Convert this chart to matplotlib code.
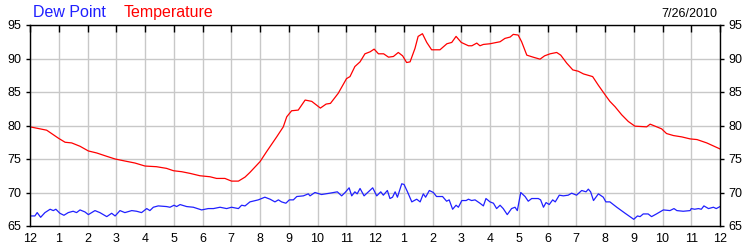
import matplotlib.pyplot as plt

plt.rcParams['font.family'] = ['Liberation Sans', 'DejaVu Sans']

# hours since midnight
temp_hours = [0, 0.58, 0.99, 1.22, 1.45, 1.74, 2.03, 2.32, 2.67, 2.96, 3.3, 3.65, 4.0, 4.4,
              4.75, 4.99, 5.28, 5.57, 5.91, 6.26, 6.49, 6.78, 7.01, 7.25, 7.48, 7.65, 8.0,
              8.23, 8.58, 8.81, 8.93, 9.1, 9.33, 9.57, 9.8, 10.1, 10.3, 10.45, 10.72, 11.01,
              11.13, 11.3, 11.48, 11.65, 11.83, 11.97, 12.12, 12.3, 12.47, 12.64, 12.81,
              12.96, 13.1, 13.22, 13.39, 13.5, 13.65, 13.8, 13.97, 14.26, 14.5, 14.67, 14.82,
              15.0, 15.25, 15.37, 15.54, 15.65, 15.77, 16.0, 16.23, 16.35, 16.52, 16.7, 16.81,
              16.98, 17.1, 17.28, 17.5, 17.74, 17.9, 18.09, 18.32, 18.46, 18.67, 18.88, 19.07,
              19.25, 19.57, 19.77, 20.0, 20.17, 20.35, 20.58, 20.81, 21.04, 21.45, 21.57,
              21.97, 22.14, 22.38, 22.67, 22.96, 23.2, 23.54, 24]
temp_vals = [79.8, 79.3, 78.1, 77.5, 77.4, 76.9, 76.2, 75.9, 75.4, 75.0, 74.7, 74.4, 73.95, 73.85,
             73.6, 73.25, 73.1, 72.85, 72.5, 72.35, 72.1, 72.1, 71.7, 71.7, 72.3, 73.0, 74.6,
             76.1, 78.3, 79.8, 81.3, 82.2, 82.3, 83.8, 83.6, 82.6, 83.2, 83.3, 84.8, 87.0,
             87.3, 88.8, 89.5, 90.7, 91.0, 91.4, 90.7, 90.7, 90.2, 90.3, 90.9,
             90.4, 89.4, 89.5, 91.5, 93.3, 93.7, 92.4, 91.3, 91.3, 92.2, 92.4, 93.3,
             92.4, 91.9, 91.9, 92.3, 91.9, 92.1, 92.2, 92.4, 92.5, 93.0, 93.2, 93.6,
             93.5, 92.5, 90.5, 90.2, 89.9, 90.4, 90.7, 90.9, 90.5, 89.3, 88.3, 88.1,
             87.7, 87.3, 86.0, 84.6, 83.6, 82.8, 81.6, 80.6, 79.9, 79.8, 80.2,
             79.5, 78.8, 78.5, 78.3, 78.0, 77.9, 77.4, 76.5]

dew_hours = [0, 0.17, 0.25, 0.37, 0.52, 0.7, 0.81, 0.9, 1.04, 1.18, 1.33, 1.5, 1.62, 1.74, 1.91,
             2.03, 2.26, 2.43, 2.67, 2.84, 2.96, 3.13, 3.3, 3.54, 3.71, 3.88, 4.06, 4.17, 4.29,
             4.46, 4.75, 4.87, 5.01, 5.1, 5.22, 5.45, 5.68, 5.97, 6.2, 6.38, 6.61, 6.84, 7.01,
             7.25, 7.36, 7.48, 7.65, 7.94, 8.17, 8.35, 8.52, 8.64, 8.75, 8.9, 9.02, 9.16, 9.28,
             9.51, 9.68, 9.74, 9.91, 10.14, 10.43, 10.69, 10.84, 10.96, 11.1, 11.19, 11.3,
             11.38, 11.48, 11.62, 11.77, 11.92, 12.06, 12.2, 12.29, 12.43, 12.52, 12.61, 12.7,
             12.78, 12.93, 13.01, 13.13, 13.28, 13.45, 13.57, 13.68, 13.76, 13.89, 14.03,
             14.14, 14.35, 14.49, 14.58, 14.7, 14.82, 14.9, 15.02, 15.17, 15.25, 15.36, 15.48,
             15.65, 15.77, 15.86, 16.0, 16.12, 16.23, 16.35, 16.46, 16.6, 16.75, 16.87, 16.95,
             17.07, 17.22, 17.33, 17.45, 17.68, 17.76, 17.86, 17.95, 18.06, 18.18, 18.27,
             18.41, 18.55, 18.72, 18.84, 19.01, 19.19, 19.34, 19.42, 19.5, 19.6, 19.77, 19.94,
             20.03, 20.17, 20.41, 20.7, 21.0, 21.13, 21.22, 21.33, 21.5, 21.62, 21.79, 22.03,
             22.26, 22.4, 22.5, 22.72, 22.96, 23.0, 23.12, 23.25, 23.35, 23.44, 23.6, 23.77,
             23.87, 24]
dew_vals = [66.5, 66.5, 67.0, 66.3, 67.0, 67.5, 67.3, 67.5, 66.9, 66.6, 67.0, 67.2, 67.0, 67.4, 67.1,
            66.7, 67.3, 67.0, 66.4, 66.9, 66.5, 67.3, 67.0, 67.3, 67.2, 67.0, 67.6, 67.3, 67.8,
            68.0, 67.9, 67.8, 68.1, 67.9, 68.2, 67.9, 67.8, 67.4, 67.6, 67.6, 67.8, 67.6, 67.8,
            67.6, 68.1, 68.0, 68.6, 68.9, 69.3, 69.0, 68.6, 68.9, 68.6, 68.4, 68.9, 68.9, 69.4,
            69.5, 69.8, 69.5, 70.0, 69.7, 69.9, 70.1, 69.5, 70.0, 70.7, 69.5, 70.1,
            69.8, 70.6, 69.5, 70.1, 70.7, 69.5, 70.1, 69.6, 70.3, 69.1, 69.3, 70.1,
            69.3, 71.3, 71.2, 70.1, 68.6, 69.0, 68.6, 69.8, 69.3, 70.3, 70.0,
            69.4, 69.4, 68.7, 68.9, 67.5, 68.1, 67.8, 68.8, 68.8, 69.0, 68.8, 68.9,
            68.4, 68.0, 69.1, 68.6, 68.4, 67.6, 68.1, 67.6, 66.7, 67.6, 67.8, 67.3,
            70.0, 69.4, 68.7, 69.1, 69.1, 68.9, 67.8, 68.5, 68.2, 68.9, 68.6,
            69.6, 69.5, 69.6, 69.9, 69.6, 70.3, 70.1, 70.5, 70.1, 68.8, 69.8, 69.3,
            68.6, 68.6, 67.8, 66.9, 66.0, 66.5, 66.4, 66.8, 66.8, 66.4, 66.8, 67.4,
            67.3, 67.6, 67.3, 67.2, 67.3, 67.6, 67.5, 67.6, 67.5, 68.0, 67.6, 67.8,
            67.6, 67.9]

hour_labels = ['12', '1', '2', '3', '4', '5', '6', '7', '8', '9', '10', '11',
               '12', '1', '2', '3', '4', '5', '6', '7', '8', '9', '10', '11', '12']
y_ticks = [65, 70, 75, 80, 85, 90, 95]

fig = plt.figure(figsize=(7.5, 2.5), dpi=100)
ax = fig.add_axes([0.04, 0.096, 0.92, 0.804])

ax.plot(dew_hours, dew_vals, color='#2020ff', lw=0.9)
ax.plot(temp_hours, temp_vals, color='#ff0000', lw=0.9)

ax.set_xlim(0, 24)
ax.set_ylim(65, 95)
ax.set_xticks(range(25))
ax.set_xticklabels(hour_labels)
ax.set_yticks(y_ticks)
ax.grid(True, color='#c8c8c8', lw=1)
ax.set_axisbelow(True)
ax.tick_params(axis='x', labelsize=9, length=0, pad=5)
ax.tick_params(axis='y', labelsize=9, length=3, width=1, pad=3, right=True, labelright=True)
for s in ax.spines.values():
    s.set_linewidth(1)

# short black ticks hanging down from the top edge
top = ax.twiny()
top.set_xlim(0, 24)
top.set_xticks(range(25))
top.tick_params(direction='in', length=5, width=1, labeltop=False)
for s in top.spines.values():
    s.set_visible(False)

fig.text(0.044, 0.932, 'Dew Point', color='#2020ff', fontsize=11.5, va='baseline')
fig.text(0.165, 0.932, 'Temperature', color='#ff0000', fontsize=11.5, va='baseline')
fig.text(0.957, 0.932, '7/26/2010', color='black', fontsize=9, va='baseline', ha='right')

fig.savefig('out.png', dpi=100)
